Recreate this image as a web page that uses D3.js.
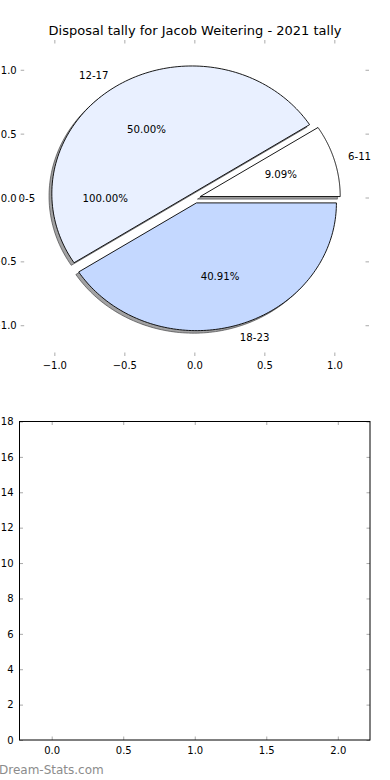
<!DOCTYPE html>
<html>
<head>
<meta charset="utf-8">
<script src="https://cdn.jsdelivr.net/npm/d3@7"></script>
<style>
  body { margin: 0; background: #fff; }
  svg text { font-family: "DejaVu Sans", sans-serif; fill: #000; }
</style>
</head>
<body>
<svg id="chart" width="390" height="780"></svg>
<script>
// Chart data
const categories = ["0-5", "6-11", "12-17", "18-23"];
const tally = [0, 2, 11, 9];
const pctLabels = ["100.00%", "9.09%", "50.00%", "40.91%"];
const explode = [0.04, 0.04, 0.04, 0.04];
const sliceColors = ["#ffffff", "#ffffff", "#e9f0ff", "#c4d8ff"];
const zeroSliceAngle = 180; // where the empty 0-5 slice sits, in degrees

const pieTicks = [-1.0, -0.5, 0.0, 0.5, 1.0];
const barYTicks = [0, 2, 4, 6, 8, 10, 12, 14, 16, 18];
const barXTicks = [0.0, 0.5, 1.0, 1.5, 2.0];

const svg = d3.select("#chart");
const fmt1 = d => d3.format(".1f")(d).replace("-", "\u2212");
const fs = 10.2;     // pie label size
const tickFs = 10;   // tick label size

// ---- Pie panel ----
const pieBox = { left: 20.7, right: 369, top: 40, bottom: 356 };
const px = d3.scaleLinear().domain([-1.244, 1.244]).range([pieBox.left, pieBox.right]);
const py = d3.scaleLinear().domain([-1.237, 1.237]).range([pieBox.bottom, pieBox.top]);

// matplotlib style: counter-clockwise from 3 o'clock
const pie = d3.pie().sort(null).value(d => d).startAngle(Math.PI / 2).endAngle(Math.PI / 2 - 2 * Math.PI);
const arcs = pie(tally).map((a, i) => {
    const t0 = Math.PI / 2 - a.startAngle;
    const t1 = Math.PI / 2 - a.endAngle;
    const mid = a.value === 0 ? zeroSliceAngle * Math.PI / 180 : (t0 + t1) / 2;
    return { i, t0, t1, mid, value: a.value,
             cx: explode[i] * Math.cos(mid), cy: explode[i] * Math.sin(mid) };
});

function wedgePoints(a, dx, dy) {
    const pts = [[a.cx, a.cy]];
    const n = 120;
    for (let k = 0; k <= n; k++) {
        const t = a.t0 + (a.t1 - a.t0) * k / n;
        pts.push([a.cx + Math.cos(t), a.cy + Math.sin(t)]);
    }
    return pts.map(p => [px(p[0]) + dx, py(p[1]) + dy]);
}
const line = d3.line().curve(d3.curveLinearClosed);

const pieG = svg.append("g");
const drawn = arcs.filter(a => a.value > 0);

// shadows first (offset -0.02,-0.02 in data units)
const sdx = px(-0.02) - px(0), sdy = py(-0.02) - py(0);
pieG.selectAll("path.shadow").data(drawn).join("path")
    .attr("class", "shadow")
    .attr("d", a => line(wedgePoints(a, sdx, sdy)))
    .attr("fill", "rgb(70,70,72)")
    .attr("fill-opacity", 0.5)
    .attr("stroke", "rgb(50,50,52)")
    .attr("stroke-opacity", 0.6);

pieG.selectAll("path.wedge").data(drawn).join("path")
    .attr("class", "wedge")
    .attr("d", a => line(wedgePoints(a, 0, 0)))
    .attr("fill", a => sliceColors[a.i])
    .attr("stroke", "#000")
    .attr("stroke-width", 0.9)
    .attr("stroke-linejoin", "miter");

// labels
pieG.selectAll("text.lbl").data(arcs).join("text")
    .attr("class", "lbl")
    .attr("x", a => px(a.cx + 1.1 * Math.cos(a.mid)))
    .attr("y", a => py(a.cy + 1.1 * Math.sin(a.mid)))
    .attr("text-anchor", a => Math.cos(a.mid) < 0 ? "end" : "start")
    .attr("dominant-baseline", "central")
    .attr("font-size", fs)
    .text(a => categories[a.i]);

pieG.selectAll("text.pct").data(arcs).join("text")
    .attr("class", "pct")
    .attr("x", a => px(a.cx + 0.6 * Math.cos(a.mid)))
    .attr("y", a => py(a.cy + 0.6 * Math.sin(a.mid)))
    .attr("text-anchor", "middle")
    .attr("dominant-baseline", "central")
    .attr("font-size", fs)
    .text(a => pctLabels[a.i]);

// ticks on all four sides, no frame
const tickCol = "#aaa", tickLen = 3.5;
const pieTickG = svg.append("g");
pieTicks.forEach(v => {
    pieTickG.append("line").attr("x1", px(v)).attr("x2", px(v))
        .attr("y1", pieBox.top).attr("y2", pieBox.top + tickLen).attr("stroke", tickCol);
    pieTickG.append("line").attr("x1", px(v)).attr("x2", px(v))
        .attr("y1", pieBox.bottom).attr("y2", pieBox.bottom - tickLen).attr("stroke", tickCol);
    pieTickG.append("line").attr("y1", py(v)).attr("y2", py(v))
        .attr("x1", pieBox.left).attr("x2", pieBox.left + tickLen).attr("stroke", tickCol);
    pieTickG.append("line").attr("y1", py(v)).attr("y2", py(v))
        .attr("x1", pieBox.right).attr("x2", pieBox.right - tickLen).attr("stroke", tickCol);
    pieTickG.append("text").attr("x", px(v)).attr("y", pieBox.bottom + 9)
        .attr("text-anchor", "middle").attr("dominant-baseline", "central")
        .attr("font-size", tickFs).text(fmt1(v));
    pieTickG.append("text").attr("x", pieBox.left - 4).attr("y", py(v))
        .attr("text-anchor", "end").attr("dominant-baseline", "central")
        .attr("font-size", tickFs).text(fmt1(v));
});

svg.append("text").attr("x", 195).attr("y", 30)
    .attr("text-anchor", "middle").attr("dominant-baseline", "central")
    .attr("font-size", 13).text("Disposal tally for Jacob Weitering - 2021 tally");

// ---- Empty bar panel ----
const barBox = { left: 19.5, right: 370, top: 421.5, bottom: 740 };
const bx = d3.scaleLinear().domain([-0.225, 2.225]).range([barBox.left, barBox.right]);
const by = d3.scaleLinear().domain([0, 18]).range([barBox.bottom, barBox.top]);

const barG = svg.append("g");
barG.append("g").attr("transform", `translate(0,${barBox.bottom})`)
    .call(d3.axisBottom(bx).tickValues(barXTicks).tickFormat(d3.format(".1f")).tickSize(-tickLen).tickPadding(7))
    .call(g => g.select(".domain").remove());
barG.append("g").attr("transform", `translate(${barBox.left},0)`)
    .call(d3.axisLeft(by).tickValues(barYTicks).tickSize(-tickLen).tickPadding(6))
    .call(g => g.select(".domain").remove());
barG.append("g").attr("transform", `translate(0,${barBox.top})`)
    .call(d3.axisTop(bx).tickValues(barXTicks).tickFormat("").tickSize(-tickLen))
    .call(g => g.select(".domain").remove());
barG.append("g").attr("transform", `translate(${barBox.right},0)`)
    .call(d3.axisRight(by).tickValues(barYTicks).tickFormat("").tickSize(-tickLen))
    .call(g => g.select(".domain").remove());
barG.selectAll(".tick line").attr("stroke", tickCol);
barG.selectAll(".tick text").attr("font-size", tickFs).attr("font-family", "DejaVu Sans").attr("fill", "#000");

barG.append("rect")
    .attr("x", barBox.left).attr("y", barBox.top)
    .attr("width", barBox.right - barBox.left).attr("height", barBox.bottom - barBox.top)
    .attr("fill", "none").attr("stroke", "#000").attr("stroke-width", 1);

// watermark
svg.append("text").attr("x", -1).attr("y", 770)
    .attr("dominant-baseline", "central")
    .attr("font-size", 12)
    .style("fill", "#8c8c8c").text("Dream-Stats.com");
</script>
</body>
</html>
